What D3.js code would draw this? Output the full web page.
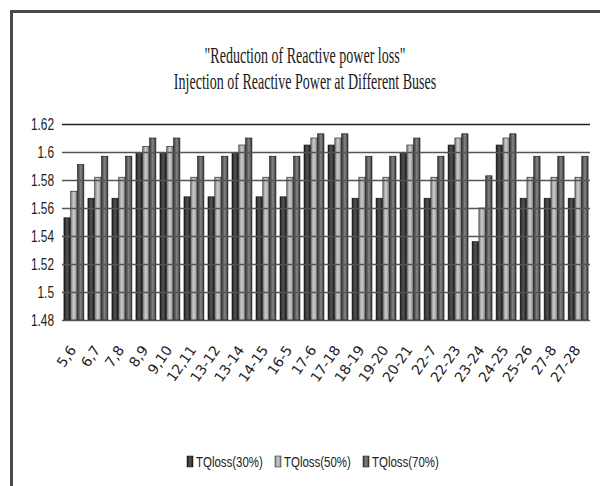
<!DOCTYPE html>
<html>
<head>
<meta charset="utf-8">
<script src="https://cdn.jsdelivr.net/npm/d3@7"></script>
<style>
  body { margin: 0; background: #fff; }
  svg { display: block; }
</style>
</head>
<body>
<svg id="chart" width="600" height="486"></svg>
<script>
const buses = ["5,6", "6,7", "7,8", "8,9", "9,10", "12,11", "13-12", "13-14", "14-15", "16-5",
  "17-6", "17-18", "18-19", "19-20", "20-21", "22-7", "22-23", "23-24", "24-25", "25-26", "27-8", "27-28"];
const loss30 = [1.553, 1.567, 1.567, 1.599, 1.599, 1.568, 1.568, 1.599, 1.568, 1.568,
  1.605, 1.605, 1.567, 1.567, 1.599, 1.567, 1.605, 1.536, 1.605, 1.567, 1.567, 1.567];
const loss50 = [1.572, 1.582, 1.582, 1.604, 1.604, 1.582, 1.582, 1.605, 1.582, 1.582,
  1.610, 1.610, 1.582, 1.582, 1.605, 1.582, 1.610, 1.560, 1.610, 1.582, 1.582, 1.582];
const loss70 = [1.591, 1.597, 1.597, 1.610, 1.610, 1.597, 1.597, 1.610, 1.597, 1.597,
  1.613, 1.613, 1.597, 1.597, 1.610, 1.597, 1.613, 1.583, 1.613, 1.597, 1.597, 1.597];
const seriesNames = ["TQloss(30%)", "TQloss(50%)", "TQloss(70%)"];
const yTicks = [1.48, 1.5, 1.52, 1.54, 1.56, 1.58, 1.6, 1.62];

const series = [loss30, loss50, loss70];
// edge / centre shades for each series
const shades = [["#1a1a1a", "#555"], ["#888", "#cdcdcd"], ["#3a3a3a", "#858585"]];
const narrowFont = "Liberation Sans Narrow, Liberation Sans, Arial, sans-serif";

const svg = d3.select("#chart");
const plotLeft = 62, plotRight = 590, plotTop = 124, plotBottom = 320;

// frame
svg.append("path")
  .attr("d", "M11.5,486 V11.5 H600")
  .attr("fill", "none")
  .attr("stroke", "#4a4a4a")
  .attr("stroke-width", 3);

// title (condensed serif look)
const title = svg.append("g")
  .attr("transform", "translate(305,0) scale(0.61,1)")
  .attr("font-family", "Liberation Serif, Times New Roman, serif")
  .attr("font-size", 23)
  .attr("fill", "#1a1a1a")
  .attr("text-anchor", "middle");
title.append("text").attr("y", 63).text("\"Reduction of Reactive power loss\"");
title.append("text").attr("y", 89).text("Injection of Reactive Power at Different Buses");

const defs = svg.append("defs");
shades.forEach((s, i) => {
  const g = defs.append("linearGradient").attr("id", "grad" + i)
    .attr("x1", "0%").attr("x2", "100%").attr("y1", "0%").attr("y2", "0%");
  g.append("stop").attr("offset", "0%").attr("stop-color", s[0]);
  g.append("stop").attr("offset", "50%").attr("stop-color", s[1]);
  g.append("stop").attr("offset", "100%").attr("stop-color", s[0]);
});

const x = d3.scaleBand().domain(buses).range([plotLeft, plotRight]).paddingInner(0.17).paddingOuter(0.08);
const xs = d3.scaleBand().domain([0, 1, 2]).range([0, x.bandwidth()]).paddingInner(0.08);
const y = d3.scaleLinear().domain([1.48, 1.62]).range([plotBottom, plotTop]);

// bars
series.forEach((vals, si) => {
  svg.append("g")
    .selectAll("rect")
    .data(vals)
    .join("rect")
    .attr("x", (d, i) => x(buses[i]) + xs(si))
    .attr("y", (d) => y(d))
    .attr("width", xs.bandwidth())
    .attr("height", (d) => y(1.48) - y(d))
    .attr("fill", "url(#grad" + si + ")")
    .attr("stroke", "#111")
    .attr("stroke-width", 0.6);
});

// gridlines on top of the bars
const yAxis = svg.append("g")
  .attr("transform", `translate(${plotLeft},0)`)
  .call(d3.axisLeft(y).tickValues(yTicks).tickSize(-(plotRight - plotLeft)).tickFormat(d3.format("")));
yAxis.select(".domain").remove();
yAxis.selectAll(".tick line")
  .attr("stroke", (d) => d === 1.62 ? "#222" : "#555")
  .attr("stroke-width", 1.6);
yAxis.selectAll(".tick text")
  .attr("x", 0)
  .attr("transform", "translate(-8,0) scale(0.72,1)")
  .attr("font-family", narrowFont)
  .attr("font-size", 16.5)
  .attr("fill", "#222");

// x labels
svg.append("g")
  .selectAll("text")
  .data(buses)
  .join("text")
  .attr("transform", (d) => `translate(${x(d) + x.bandwidth() / 2 + 3},350) rotate(-55)`)
  .attr("text-anchor", "end")
  .attr("font-family", "DejaVu Sans, Verdana, sans-serif")
  .attr("font-size", 14)
  .attr("fill", "#222")
  .text((d) => d);

// legend
const legendX = [187, 275, 363];
const legend = svg.append("g")
  .selectAll("g")
  .data(seriesNames)
  .join("g")
  .attr("transform", (d, i) => `translate(${legendX[i]},455)`);
legend.append("rect")
  .attr("y", 1)
  .attr("width", 6).attr("height", 11)
  .attr("fill", (d, i) => "url(#grad" + i + ")")
  .attr("stroke", "#111").attr("stroke-width", 0.5);
legend.append("text")
  .attr("transform", "translate(9,12) scale(0.74,1)")
  .attr("font-family", narrowFont)
  .attr("font-size", 15.5)
  .attr("fill", "#222")
  .text((d) => d);
</script>
</body>
</html>
